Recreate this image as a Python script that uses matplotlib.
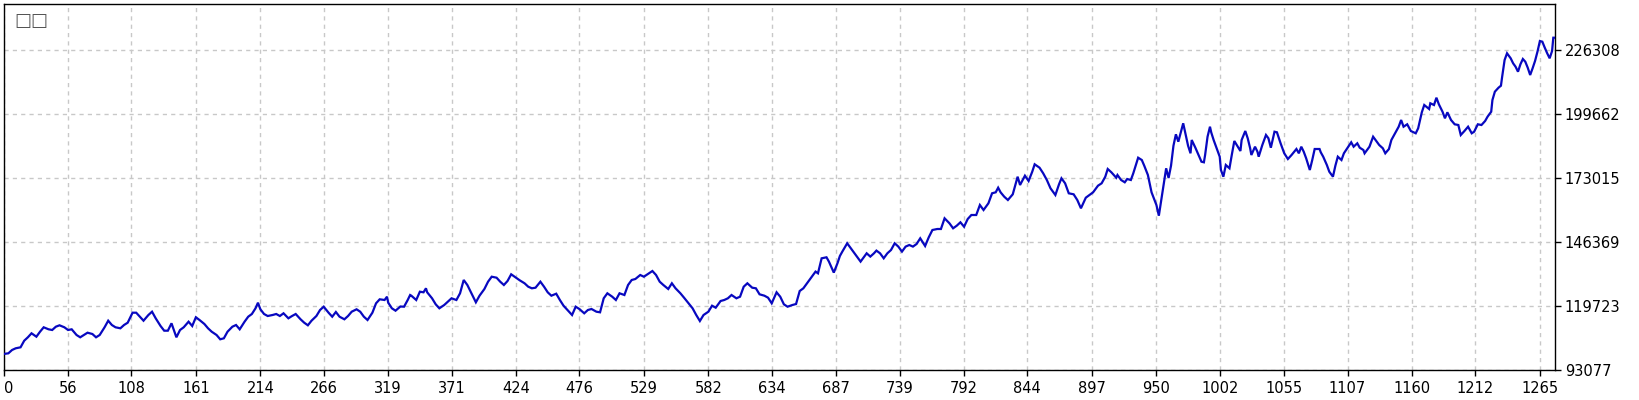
import matplotlib
matplotlib.use("Agg")
import matplotlib.pyplot as plt
import numpy as np

title_text = "□□"

trade = [3, 7, 10, 13, 17, 20, 23, 26, 30, 33, 36, 40, 43, 46, 49, 53, 56, 59, 63, 66,
         69, 72, 76, 79, 82, 86, 89, 92, 95, 99, 102, 105, 109, 112, 115, 118, 122, 125, 128, 132,
         135, 138, 141, 145, 148, 151, 155, 158, 161, 164, 168, 171, 174, 178, 181, 184, 187, 191, 194, 197,
         201, 204, 207, 210, 212, 214, 217, 220, 224, 227, 230, 233, 237, 240, 243, 247, 250, 253, 256, 260,
         263, 266, 270, 273, 276, 279, 283, 286, 289, 293, 296, 299, 302, 306, 309, 312, 316, 318, 319, 322,
         325, 329,
         332, 335, 337, 338, 342, 345, 348, 350, 351, 355, 358, 361, 365, 368, 371, 375, 378, 381, 384, 388,
         391, 394, 398, 401, 404, 408, 411, 414, 417, 420, 424, 427, 431, 434, 437, 440, 444, 447, 450, 453,
         457, 460, 463, 467, 470, 473, 476, 480, 483, 486, 490, 493, 496, 499, 503, 506, 509, 513, 516, 519,
         522, 526, 529, 532, 536, 539, 542, 545, 549, 552, 555, 559, 562, 565, 569, 572, 575, 578, 582, 585,
         588, 592, 595, 598, 601, 605, 608, 611, 614, 618, 621, 624, 628, 631, 634, 638, 641, 644, 647, 651,
         654, 657,
         660, 663, 666, 670, 672, 675, 679, 681, 685, 688, 690, 692, 696, 699, 703, 707, 712, 715, 718, 720,
         723, 726, 729, 732, 735, 738, 741, 744, 747, 750, 753, 756, 760, 763, 766,
         770, 773, 776, 780, 783, 786, 789, 792, 795, 798, 802, 805, 808, 812, 815, 818, 820, 822, 825, 828,
         832, 835, 836, 838, 842, 845, 848, 850, 854, 857, 860, 863, 867, 870, 872, 875, 878, 882, 885, 888,
         892, 895, 898, 902, 905, 908, 910, 913, 917, 918, 921, 924, 926, 929, 931, 935, 938, 940, 943, 946,
         950, 952, 954, 956, 958, 960, 962, 964, 966, 968, 970, 972, 974, 976, 978, 979, 982, 985,
         987, 989, 990, 992, 994, 995, 997, 1000, 1002, 1003, 1005, 1007, 1010, 1012, 1014, 1016, 1019, 1020, 1023, 1025,
         1027, 1028, 1031, 1033, 1034, 1037, 1040, 1042, 1044, 1047, 1049, 1052, 1055, 1058, 1061, 1065, 1067, 1069, 1071, 1073,
         1076, 1078, 1080, 1084, 1085, 1087, 1090, 1092, 1095, 1097, 1099, 1102, 1104, 1107, 1110, 1112, 1115, 1117, 1120, 1121,
         1123, 1125, 1128, 1130, 1133, 1136, 1138, 1141, 1143, 1146, 1149, 1151, 1153, 1156, 1159, 1163, 1165, 1168, 1170, 1174,
         1175, 1178, 1180, 1182, 1185, 1187, 1189, 1192, 1195, 1198, 1200, 1203, 1206, 1209, 1211, 1214, 1217, 1220, 1222, 1225,
         1226, 1228, 1231, 1233, 1234, 1236, 1238, 1239, 1241, 1243, 1245, 1247, 1249, 1251, 1253, 1255, 1257, 1259, 1261, 1263,
         1265, 1267, 1269, 1271, 1273, 1275, 1276, 1278]

balance = [99733, 100024, 101397, 102104, 102520, 105266, 106680, 108344, 106930, 109010,
           110840, 110008, 109717, 111090, 111672, 110840, 109717, 110008, 107637, 106680,
           107637, 108594, 108053, 106680, 107637, 110840, 113586, 111797, 110840, 110424,
           111797, 112754, 116914, 116914, 115250, 113586, 115957, 117330, 114584, 111381,
           109426, 109426, 112504, 106680, 109717, 110840, 113170, 111381, 115000, 113877,
           112213, 110424, 109010, 107637, 105848, 106264, 109010, 111090, 111797, 110008,
           113170, 115250, 116373, 118744, 121074, 118328, 116373, 115541, 115957, 116373,
           115541, 116664, 114584, 115541, 116373, 114168, 112754, 111672, 113586, 115541,
           118037, 119410, 116914, 115250, 117205, 115250, 114168, 115541, 117330, 118328,
           117330, 115250, 113877, 116914, 120824, 122488, 122197, 123570, 121074, 118744,
           117746, 119493,
           119410, 122197, 124277, 123986, 122197, 125650, 125400, 127064, 125400, 122904,
           120408, 118744, 120117, 121490, 122904, 122197, 124984, 130517, 128437, 124277,
           121240, 123986, 126773, 129810, 131890, 131474, 129810, 128437, 130101, 132888,
           131474, 130392, 129144, 127730, 127064, 127314, 129810, 127730, 125400, 123986,
           124818, 122197, 119826, 117621, 115957, 119410, 118453, 116664, 118037, 118453,
           117330, 117080, 122904, 124984, 123570, 122197, 124984, 124277, 128437, 130517,
           130933, 132597, 131890, 132888, 134261, 132597, 129810, 128437, 126773, 129144,
           127064, 124984, 123154, 121240, 118744, 115957, 113461, 115957, 117330, 119826,
           118994, 121781, 122197, 122904, 124277, 122904, 123570, 127730, 129144, 127314,
           127064, 124568, 123986, 123154, 120824, 125400, 123570, 120408, 119410, 120117,
           120533, 125941,
           127064, 129144, 131224, 134011, 133304, 139544, 139960, 138171, 133595, 137464,
           140501, 142331, 145784, 143704, 140917, 138171, 141624, 140251, 141624, 142747,
           141624, 139544, 141624, 142997, 145784, 144411, 142331, 144411, 145077, 144411,
           145493, 147864, 144661, 148280, 151317,
           151733, 151733, 156184, 154104, 152024, 153106, 154520, 152690, 155893, 157557,
           157557, 161717, 159637, 162424, 166584, 167000, 168914, 167000, 165170, 163797,
           166168, 171701, 173490, 170037, 173906, 171701, 175570, 178648, 177234, 174904,
           172117, 168664, 165877, 170328, 172824, 170744, 166584, 166168, 163797, 160344,
           164754, 165877, 167000, 169746, 170744, 173490, 176693, 175320, 173074, 174197,
           172117, 171160, 172533, 172117, 174904, 181394, 180437, 178066, 174197, 167000,
           161717, 157266, 163797, 170037, 176984, 172949, 178066, 186386, 191128, 188050,
           191960, 195704, 191128, 186386, 183224, 188757, 185554, 182101,
           179730, 179480, 182517, 190130, 194290, 191960, 188757, 184597, 181810, 176277,
           173490, 178357, 176984, 182808, 188341, 186677, 184181, 188757, 192501, 189464,
           185304, 182517, 185970, 183890, 181810, 186677, 190837, 189464, 185554, 192210,
           191960, 187384, 183224, 180853, 182517, 185013, 183224, 185970, 183890, 181144,
           176277, 180437, 185013, 185013, 183640, 181810, 178357, 175570, 173490, 178066,
           181810, 180437, 183224, 185554, 187800, 185970, 187384, 185554, 184597, 183224,
           184597, 185970, 190130, 188757, 186677, 185304, 183224, 185013, 188757, 191544,
           194290, 197077, 194290, 195288, 192501, 191544, 193624, 200280, 203317, 201653,
           204024, 203317, 206354, 203608, 200530, 197784, 200280, 197077, 195288, 194997,
           190837, 192501, 194290, 191544, 192210, 195288, 194997, 196661, 198450, 200530,
           205397, 208850, 210514, 211346, 215090, 222037, 224824, 224117, 222744, 220664,
           219250, 217170, 220248, 222453, 221330, 218834, 215797, 218584, 221621, 225490,
           229941, 229650, 227154, 224824, 222744, 225781, 231314, 231314]

x_tick_labels = ["0", "56", "108", "161", "214", "266", "319", "371", "424", "476", "529", "582",
                 "634", "687", "739", "792", "844", "897", "950", "1002", "1055", "1107", "1160",
                 "1212", "1265"]
y_tick_values = [93077, 119723, 146369, 173015, 199662, 226308]

X_LEFT, X_RIGHT = 3.4, 1277.4
Y_BOTTOM, Y_TOP = 93077, 245333

W, H = 1640, 400
fig = plt.figure(figsize=(W / 100, H / 100), dpi=100)
fig.patch.set_facecolor("white")
ax = fig.add_axes([4 / W, 1 - 370 / H, (1555 - 4) / W, (370 - 4) / H])

ax.plot(trade, balance, color="#0808c0", linewidth=1.6, solid_joinstyle="miter",
        antialiased=True, zorder=3)

ax.set_xlim(X_LEFT, X_RIGHT)
ax.set_ylim(Y_BOTTOM, Y_TOP)

xpos = [X_LEFT] + [float(s) for s in x_tick_labels[1:]]
ax.set_xticks(xpos)
ax.set_xticklabels(x_tick_labels)
ax.set_yticks(y_tick_values)
ax.set_yticklabels([str(v) for v in y_tick_values])

ax.yaxis.tick_right()
ax.tick_params(axis="both", direction="out", length=4, width=1, color="black",
               labelsize=10.5, labelcolor="black", pad=3)
ax.tick_params(axis="x", pad=4)
first = ax.get_xticklabels()[0]
first.set_horizontalalignment("left")

for sp in ax.spines.values():
    sp.set_color("black")
    sp.set_linewidth(1)

ax.grid(True, color="#c8c8c8", linestyle=(0, (3, 3)), linewidth=1)
ax.set_axisbelow(True)

ax.text(10 / (1555 - 4), 1 - 8 / 366, title_text, transform=ax.transAxes,
        ha="left", va="top", fontsize=13, color="#555555", family="DejaVu Sans")

fig.savefig("out.png", dpi=100, facecolor="white")
